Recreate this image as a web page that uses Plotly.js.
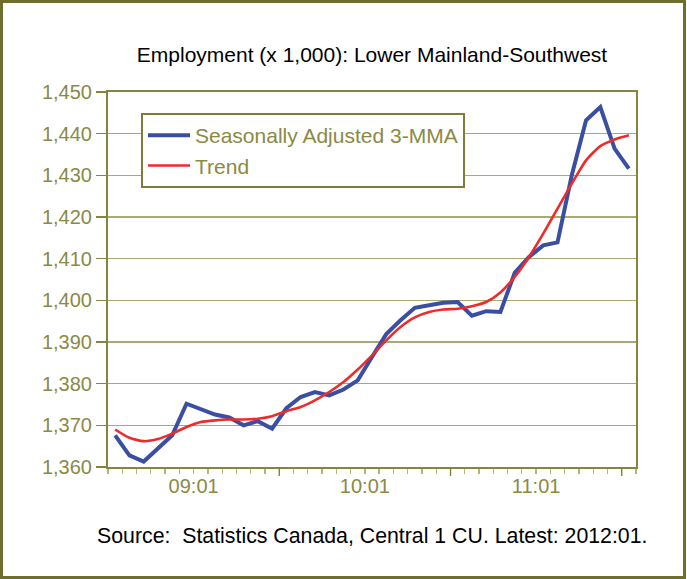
<!DOCTYPE html>
<html>
<head>
<meta charset="utf-8">
<script src="https://cdn.plot.ly/plotly-3.0.1.min.js"></script>
<style>
html,body{margin:0;padding:0;background:#fff;}
#chart{width:687px;height:579px;}
</style>
</head>
<body>
<div id="chart"></div>
<script>
// Months 2009:01 .. 2012:01
const months = ["09:01","09:02","09:03","09:04","09:05","09:06","09:07","09:08","09:09","09:10","09:11","09:12",
                "10:01","10:02","10:03","10:04","10:05","10:06","10:07","10:08","10:09","10:10","10:11","10:12",
                "11:01","11:02","11:03","11:04","11:05","11:06","11:07","11:08","11:09","11:10","11:11","11:12",
                "12:01"];
const seasonallyAdjusted = [1367.6,1362.8,1361.3,1364.4,1367.6,1375.2,1373.9,1372.6,1371.9,1370.0,1371.0,1369.2,
                            1374.1,1376.8,1378.0,1377.2,1378.6,1380.8,1386.4,1391.9,1395.2,1398.2,1398.8,1399.4,
                            1399.6,1396.3,1397.4,1397.2,1406.6,1410.4,1413.2,1413.9,1430.0,1443.2,1446.4,1436.4,
                            1431.6];
const trend = [1369.0,1367.0,1366.2,1366.7,1368.0,1369.6,1370.8,1371.2,1371.4,1371.4,1371.6,1372.2,
               1373.4,1374.4,1376.0,1378.0,1380.4,1383.4,1386.8,1390.4,1393.6,1395.9,1397.2,1397.8,
               1398.0,1398.6,1399.6,1401.9,1405.6,1410.4,1416.0,1422.0,1428.0,1433.6,1437.0,1438.6,
               1439.6];
const yearLabels = ["09:01","10:01","11:01"];
const yTicks = [1360,1370,1380,1390,1400,1410,1420,1430,1440,1450];

const xIdx = months.map((m,i)=>i);
const labelPos = yearLabels.map(l => months.indexOf(l) + 5.5);
const yearBoundaries = yearLabels.map(l => months.indexOf(l) + 11.5);

const olive = '#8a8a45';
const font = 'Liberation Sans, Arial, sans-serif';

const traces = [
  {x: xIdx, y: seasonallyAdjusted, type:'scatter', mode:'lines', name:'Seasonally Adjusted 3-MMA',
   line:{color:'#3a4fa2', width:4}},
  {x: xIdx, y: trend, type:'scatter', mode:'lines', name:'Trend',
   line:{color:'#ee2b2b', width:2.6, shape:'spline', smoothing:0.6}}
];

const shapes = yearBoundaries.map(v => ({
  type:'line', xref:'x', yref:'paper', x0:v, x1:v, y0:0, y1:-0.024,
  line:{color:'#7d7d35', width:1.3}
}));
shapes.push({type:'rect', xref:'paper', yref:'paper',
  x0:(1.5-108)/528, x1:(684.5-108)/528, y0:(467-577.5)/375, y1:(467-1.5)/375,
  line:{color:'#6e6e2e', width:3}});

const layout = {
  width:687, height:579,
  margin:{l:108, r:51, t:92, b:112},
  paper_bgcolor:'#fff', plot_bgcolor:'#fff',
  showlegend:true,
  legend:{x:(141-108)/528, y:(467-113)/375, xanchor:'left', yanchor:'top',
    bordercolor:'#7d7d35', borderwidth:2, bgcolor:'#fff',
    font:{family:font, size:21, color:olive}, itemwidth:42, tracegroupgap:0,
    entrywidth:330, entrywidthmode:'pixels'},
  title:{text:'Employment (x 1,000): Lower Mainland-Southwest', x:0.5, xref:'paper',
    y:1-55/579, yref:'container', yanchor:'middle',
    font:{family:font, size:21, color:'#000'}},
  xaxis:{range:[-0.5, months.length-0.5], tickmode:'array', tickvals:labelPos, ticktext:yearLabels,
    ticks:'', showgrid:false, zeroline:false,
    showline:true, linecolor:'#85853e', linewidth:2, mirror:true,
    tickfont:{family:font, size:20, color:olive},
    minor:{tick0:-0.5, dtick:1, ticks:'outside', ticklen:5, tickcolor:'#b3b383', tickwidth:1.3}},
  yaxis:{range:[1360,1450], tickmode:'array', tickvals:yTicks,
    ticktext:yTicks.map(v=>v.toLocaleString('en-US')),
    ticks:'outside', ticklen:10, tickcolor:'#85853e', tickwidth:1.3,
    showgrid:true, gridcolor:'#a9a970', gridwidth:1.3, zeroline:false,
    showline:true, linecolor:'#85853e', linewidth:2, mirror:true,
    tickfont:{family:font, size:20, color:olive}},
  shapes:shapes,
  annotations:[{text:'Source:  Statistics Canada, Central 1 CU. Latest: 2012:01.',
    xref:'paper', yref:'paper', x:0.5, y:(467-536)/375, xanchor:'center', yanchor:'middle',
    showarrow:false, font:{family:font, size:21.3, color:'#000'}}]
};

Plotly.newPlot('chart', traces, layout, {displayModeBar:false, staticPlot:true});
</script>
</body>
</html>
